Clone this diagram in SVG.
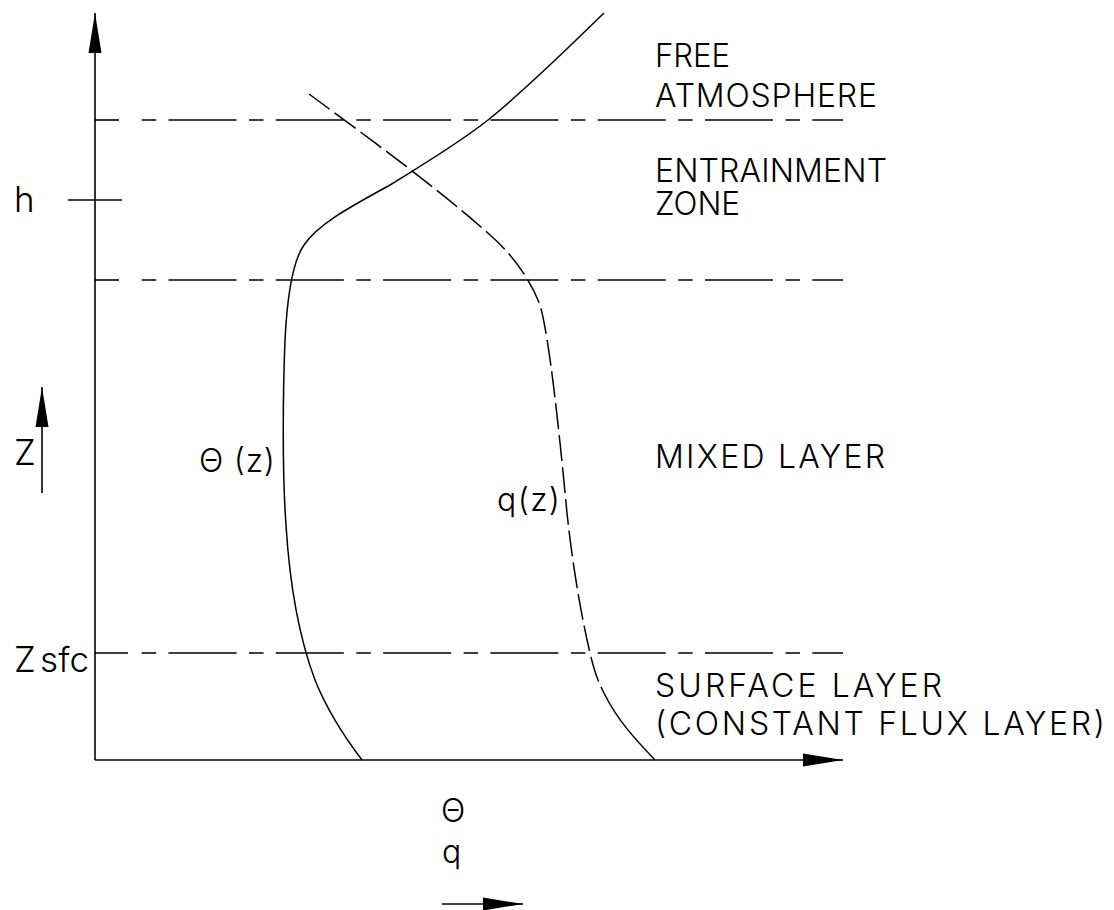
<svg xmlns="http://www.w3.org/2000/svg" width="1114" height="910" viewBox="0 0 1114 910">
<style>
.ln{fill:none;stroke:#000;stroke-width:1.6}
.dd{fill:none;stroke:#000;stroke-width:1.6;stroke-dasharray:14.5 12.3 68 12.5}
.qd{fill:none;stroke:#000;stroke-width:1.5;stroke-dasharray:26 6}
.cv{fill:none;stroke:#000;stroke-width:1.5}
.t{font-family:Inter,"Liberation Sans",Arial,sans-serif;font-weight:300;font-size:32px;fill:#000}
.tl{font-family:Inter,"Liberation Sans",Arial,sans-serif;font-weight:300;font-size:35px;fill:#000}
</style>
<defs>
<marker id="ah" markerUnits="userSpaceOnUse" markerWidth="40" markerHeight="14" refX="40" refY="7" orient="auto" viewBox="0 0 40 14">
<path d="M0,0.5 L40,7 L0,13.5 Z" fill="#000"/>
</marker>
</defs>
<rect width="1114" height="910" fill="#fff"/>

<g id="connectors">
<path id="z-axis" class="ln" d="M95,760 L95,13" marker-end="url(#ah)"/>
<path id="x-axis" class="ln" d="M95,760 L843,760" marker-end="url(#ah)"/>
<path id="h-tick" class="ln" d="M68,200 L122,200"/>
<path id="z-arrow" class="ln" d="M42,493 L42,387" marker-end="url(#ah)"/>
<path id="theta-q-arrow" class="ln" d="M442,904 L523,904" marker-end="url(#ah)"/>
</g>

<g id="boundary-top">
<path class="ln" d="M95,120 L119,120"/>
<path class="dd" d="M141.7,120 L843,120"/>
</g>
<g id="boundary-mid">
<path class="ln" d="M95,280 L119,280"/>
<path class="dd" d="M141.7,280 L843,280"/>
</g>
<g id="boundary-sfc">
<path class="ln" d="M95,653 L128,653"/>
<path class="dd" d="M141.7,653 L843,653"/>
</g>

<g id="theta-curve">
<path class="cv" d="M604,13 C570,46 530,86 488,120 C455,146 420,166 390,185 C350,207 318,224 304,245 C292,262 287,300 285,340 C283,390 282,470 286,525 C290,590 300,640 315,680 C327,710 343,735 362,760"/>
</g>
<g id="q-curve">
<path class="qd" d="M309,94 C370,139 440,190 490,235 C510,252 530,278 540,305 C550,340 560,440 567,513 C572,560 580,610 590,653 C594,670 598,682 604,693"/>
<path class="cv" d="M604,693 C617,720 636,740 655,760"/>
</g>

<g id="label-h"><text class="tl" x="14" y="212">h</text></g>
<g id="label-z"><text class="tl" x="14" y="465">Z</text></g>
<g id="label-zsfc"><text class="tl" x="14" y="672">Z</text><text class="tl" x="40" y="672" textLength="49">sfc</text></g>
<g id="label-theta-z"><text class="t" x="199" y="472" textLength="76">Θ (z)</text></g>
<g id="label-q-z"><text class="t" x="497" y="511" textLength="63">q(z)</text></g>
<g id="label-theta-q"><text class="t" x="441" y="822">Θ</text><text class="t" x="442" y="863">q</text></g>

<g id="label-free"><text class="t" x="655" y="67" textLength="75" lengthAdjust="spacingAndGlyphs">FREE</text><text class="t" x="655" y="107" textLength="222">ATMOSPHERE</text></g>
<g id="label-entrainment"><text class="t" x="655" y="182" textLength="232">ENTRAINMENT</text><text class="t" x="655" y="215" textLength="85" lengthAdjust="spacingAndGlyphs">ZONE</text></g>
<g id="label-mixed"><text class="t" x="655" y="468" textLength="230">MIXED LAYER</text></g>
<g id="label-surface"><text class="t" x="655" y="697" textLength="287">SURFACE LAYER</text><text class="t" x="655" y="735" textLength="450">(CONSTANT FLUX LAYER)</text></g>
</svg>
